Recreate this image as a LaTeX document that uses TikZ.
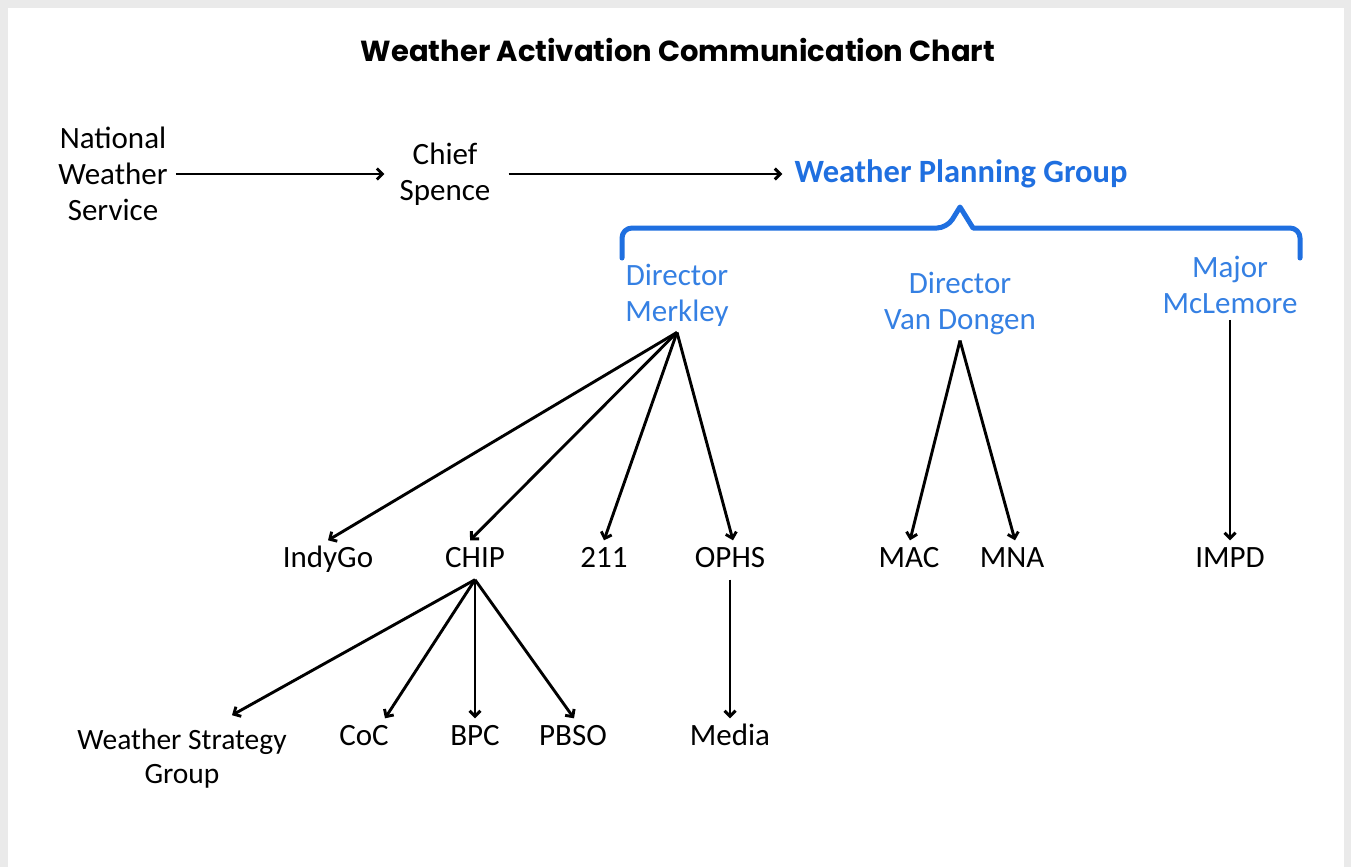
\documentclass[tikz,border=0pt]{standalone}
\usepackage{fontspec}
\setmainfont{Carlito}
\newfontfamily\titlefont{Poppins}
\usetikzlibrary{arrows.meta}
\definecolor{wblue}{HTML}{1F6FE0}
\definecolor{lblue}{HTML}{3580E3}
\definecolor{frame}{HTML}{EAEAEA}
\begin{document}
\begin{tikzpicture}[x=1pt,y=-1pt,
  lbl/.style={font=\fontsize{31}{36}\selectfont, inner sep=6pt, text height=21pt, text depth=6pt},
  mlbl/.style={font=\fontsize{31}{36}\selectfont, inner sep=6pt, align=center},
  blbl/.style={mlbl, text=lblue},
  arr/.style={line width=2.9pt, -{Straight Barb[length=5.5pt,width=11pt]}}]
\useasboundingbox (0,0) rectangle (1351,867);
\fill[frame] (0,0) rectangle (1351,867);
\fill[white] (8,8) rectangle (1344,867);

\node[font=\titlefont\bfseries\fontsize{29}{33}\selectfont] (title) at (678,50) {Weather Activation Communication Chart};

\node[mlbl] (nws) at (113,174) {National\\Weather\\Service};
\node[mlbl] (chief) at (445,174) {Chief\\Spence};
\node[font=\bfseries\fontsize{32.5}{38}\selectfont, text=wblue, inner sep=6pt] (wpg) at (961,174) {Weather Planning Group};

\draw[arr] ([xshift=2pt]nws.east) -- ([xshift=-9pt]chief.west);
\draw[arr] ([xshift=12pt]chief.east) -- ([xshift=-6pt]wpg.west);

\draw[wblue, line width=5pt, line cap=round, line join=round, rounded corners=10pt]
  (622,258) -- (622,228) -- (947,228) [sharp corners] -- (960,207) -- (973,228) [rounded corners=10pt] -- (1300,228) -- (1300,258);

\node[blbl] (merk) at (677,295) {Director\\Merkley};
\node[blbl] (vand) at (960,303) {Director\\Van Dongen};
\node[blbl] (mcl) at (1230,285) {Major\\McLemore};

\node[lbl] (indy) at (328,560) {IndyGo};
\node[lbl] (chip) at (475,560) {CHIP};
\node[lbl] (n211) at (604,560) {211};
\node[lbl] (ophs) at (730,560) {OPHS};
\node[lbl] (mac) at (909,560) {MAC};
\node[lbl] (mna) at (1012,560) {MNA};
\node[lbl] (impd) at (1230,560) {IMPD};

\node[mlbl, font=\fontsize{29.5}{34}\selectfont] (wsg) at (182,759) {Weather Strategy\\Group};
\node[lbl] (coc) at (364,738) {CoC};
\node[lbl] (bpc) at (475,738) {BPC};
\node[lbl] (pbso) at (573,738) {PBSO};
\node[lbl] (media) at (730,738) {Media};

\draw[arr] (merk.south) -- (indy.north);
\draw[arr] (merk.south) -- ([xshift=-5pt]chip.north);
\draw[arr] (merk.south) -- (n211.north);
\draw[arr] (merk.south) -- ([xshift=3pt]ophs.north);

\draw[arr] (vand.south) -- ([xshift=1pt]mac.north);
\draw[arr] (vand.south) -- ([xshift=3pt]mna.north);

\draw[arr] (mcl.south) -- (impd.north);

\draw[arr] (chip.south) -- ([xshift=50pt,yshift=8pt]wsg.north);
\draw[arr] (chip.south) -- ([xshift=21pt]coc.north);
\draw[arr] (chip.south) -- (bpc.north);
\draw[arr] (chip.south) -- ([xshift=1pt]pbso.north);

\draw[arr] (ophs.south) -- (media.north);
\end{tikzpicture}
\end{document}
